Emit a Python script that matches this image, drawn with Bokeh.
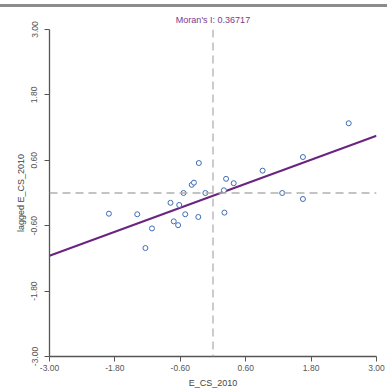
from bokeh.plotting import figure
from bokeh.models import FixedTicker, Span, Div, CustomJSTickFormatter
from bokeh.layouts import column
from bokeh.embed import file_html
from bokeh.resources import INLINE

# Standardized variable and its spatial lag
e_cs_2010 = [-1.91, -1.39, -1.24, -1.12, -0.78, -0.72, -0.64, -0.62, -0.54, -0.51,
             -0.39, -0.35, -0.26, -0.27, -0.14, 0.20, 0.21, 0.24, 0.38, 0.91,
             1.27, 1.65, 1.65, 2.49]
lagged_e_cs_2010 = [-0.38, -0.39, -1.01, -0.65, -0.18, -0.52, -0.59, -0.22, 0.00, -0.39,
                    0.15, 0.19, 0.55, -0.44, 0.00, 0.05, -0.36, 0.26, 0.18, 0.41,
                    0.00, -0.11, 0.66, 1.28]
morans_i = 0.36717
intercept = -0.05
axis_ticks = [-3.0, -1.8, -0.6, 0.6, 1.8, 3.0]
axis_range = [-3.0, 3.0]

FONT = "Liberation Sans"

p = figure(width=387, height=385, x_range=(axis_range[0], axis_range[1]),
           y_range=(axis_range[0], axis_range[1]),
           output_backend="svg", toolbar_location=None,
           min_border_left=49, min_border_right=11, min_border_bottom=36, min_border_top=22,
           background_fill_color="white", border_fill_color="white")
p.outline_line_color = None
p.xgrid.visible = False
p.ygrid.visible = False

p.title.text = "Moran's I: " + str(morans_i)
p.title.align = "center"
p.title.vertical_align = "bottom"
p.title.text_font = FONT
p.title.text_font_size = "9px"
p.title.text_font_style = "normal"
p.title.text_color = "#7a3a8c"
p.title.standoff = 10
p.title.offset = 0

# reference dashed lines at zero
p.add_layout(Span(location=0, dimension="width", line_color="#b0b0b0",
                  line_width=1.3, line_dash="8 5"))
p.add_layout(Span(location=0, dimension="height", line_color="#b0b0b0",
                  line_width=1.3, line_dash="8 5"))

# regression line (slope = Moran's I)
line_x = axis_range
line_y = [morans_i * v + intercept for v in line_x]
p.line(line_x, line_y, line_color="#6a2480", line_width=2)

p.scatter(e_cs_2010, lagged_e_cs_2010, size=5, fill_color="white",
          line_color="#3f6db5", line_width=1)

fmt = CustomJSTickFormatter(code="return tick.toFixed(2);")
for ax in (p.xaxis[0], p.yaxis[0]):
    ax.ticker = FixedTicker(ticks=axis_ticks)
    ax.formatter = fmt
    ax.axis_line_color = "#555555"
    ax.axis_line_width = 1.3
    ax.major_tick_line_color = "#555555"
    ax.major_tick_in = 0
    ax.major_tick_out = 5
    ax.minor_tick_line_color = None
    ax.major_label_text_font = FONT
    ax.major_label_text_font_size = "8.5px"
    ax.major_label_text_color = "#555555"
    ax.axis_label_text_font = FONT
    ax.axis_label_text_font_size = "9px"
    ax.axis_label_text_font_style = "normal"
    ax.axis_label_text_color = "#444444"

p.xaxis[0].axis_label = "E_CS_2010"
p.xaxis[0].major_label_standoff = 3
p.xaxis[0].axis_label_standoff = 4
p.yaxis[0].axis_label = "lagged E_CS_2010"
p.yaxis[0].major_label_orientation = "vertical"
p.yaxis[0].major_label_standoff = 7
p.yaxis[0].axis_label_standoff = 3

bar = Div(text="", width=387, height=3, margin=(4, 0, 0, 0),
          styles={"background-color": "#8c8c8c"})

layout = column(bar, p, spacing=0)
open("out.html", "w").write(file_html(layout, INLINE))
